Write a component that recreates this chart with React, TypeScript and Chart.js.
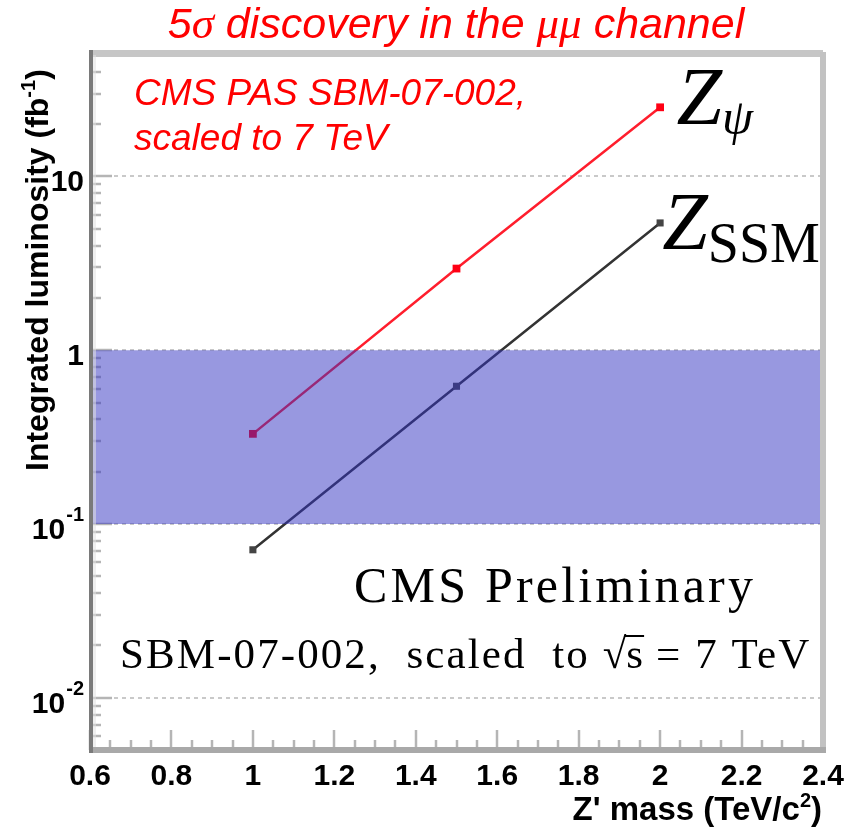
import React, { useEffect, useRef } from "react";
import { Chart, registerables } from "chart.js";

Chart.register(...registerables);

// Z' mass points (TeV/c^2) and the integrated luminosity needed for a 5σ discovery (fb^-1)
const massTeV = [1.0, 1.5, 2.0];
const lumiZpsi = [0.33, 2.95, 25];
const lumiZssm = [0.071, 0.62, 5.4];

// shaded luminosity window (fb^-1)
const bandLow = 0.1;
const bandHigh = 1;

// axis ranges
const massRange = [0.6, 2.4];
const lumiRange = [0.005, 50];

// tick values and labels
const massTicks = [0.6, 0.8, 1.0, 1.2, 1.4, 1.6, 1.8, 2.0, 2.2, 2.4];
const massTickLabels = ["0.6", "0.8", "1", "1.2", "1.4", "1.6", "1.8", "2", "2.2", "2.4"];
const lumiDecades = [0.01, 0.1, 1, 10];
const lumiDecadeBase = ["10", "10", "1", "10"];
const lumiDecadeExp = ["-2", "-1", "", ""];

// model label anchors in data coordinates
const zpsiLabelAt = { x: 2.04, y: 20 };
const zssmLabelAt = { x: 2.005, y: 3.8 };

const SANS = '"Liberation Sans", Arial, Helvetica, sans-serif';
const SERIF = '"Liberation Serif", "Times New Roman", serif';

type Run = { text: string; font: string; dy?: number; spacing?: number };

function runsWidth(ctx: CanvasRenderingContext2D, runs: Run[]) {
  let w = 0;
  for (const r of runs) {
    ctx.font = r.font;
    (ctx as any).letterSpacing = `${r.spacing || 0}px`;
    w += ctx.measureText(r.text).width;
  }
  (ctx as any).letterSpacing = "0px";
  return w;
}

function drawRuns(ctx: CanvasRenderingContext2D, runs: Run[], x: number, y: number) {
  let cx = x;
  const ends: number[] = [];
  for (const r of runs) {
    ctx.font = r.font;
    (ctx as any).letterSpacing = `${r.spacing || 0}px`;
    ctx.fillText(r.text, cx, y + (r.dy || 0));
    cx += ctx.measureText(r.text).width;
    ends.push(cx);
  }
  (ctx as any).letterSpacing = "0px";
  return ends;
}

const decorPlugin = {
  id: "decor",
  beforeDatasetsDraw(chart: any) {
    const { ctx, chartArea: a } = chart;
    const xs = chart.scales.x;
    const ys = chart.scales.y;
    ctx.save();
    const seg = (x1: number, y1: number, x2: number, y2: number) => {
      ctx.beginPath();
      ctx.moveTo(x1, y1);
      ctx.lineTo(x2, y2);
      ctx.stroke();
    };
    // dashed grid at each decade
    ctx.strokeStyle = "#c9c9c9";
    ctx.lineWidth = 2;
    ctx.setLineDash([4, 4]);
    for (const v of lumiDecades) {
      const py = Math.round(ys.getPixelForValue(v));
      seg(a.left, py, a.right, py);
    }
    ctx.setLineDash([]);
    // inward tick marks on the luminosity axis
    ctx.strokeStyle = "#b5b5b5";
    ctx.lineWidth = 2.5;
    for (let e = -3; e <= 1; e++) {
      for (let k = 1; k <= 9; k++) {
        const v = k * Math.pow(10, e);
        if (v < lumiRange[0] || v > lumiRange[1]) continue;
        const py = Math.round(ys.getPixelForValue(v));
        seg(a.left, py, a.left + (k === 1 ? 22 : 11), py);
      }
    }
    // inward tick marks on the mass axis
    massTicks.forEach((t, i) => {
      const px = Math.round(xs.getPixelForValue(t));
      seg(px, a.bottom, px, a.bottom - 20);
      if (i < massTicks.length - 1) {
        for (let j = 1; j <= 3; j++) {
          const mx = Math.round(xs.getPixelForValue(t + j * 0.05));
          seg(mx, a.bottom, mx, a.bottom - 10);
        }
      }
    });
    ctx.restore();
  },
  afterDatasetsDraw(chart: any) {
    const { ctx, chartArea: a } = chart;
    ctx.save();
    const h = a.bottom - a.top;
    const w = a.right - a.left;
    // frame
    ctx.fillStyle = "#c6c6c6";
    ctx.fillRect(a.left, a.top - 5, w, 7);
    ctx.fillStyle = "#c2c2c2";
    ctx.fillRect(a.right - 3, a.top - 3, 6, h + 6);
    ctx.fillStyle = "rgba(225,225,225,0.55)";
    ctx.fillRect(a.left + 2, a.top, 4, h);
    ctx.fillStyle = "#7a7a7a";
    ctx.fillRect(a.left - 1, a.top - 5, 4, h + 8);
    ctx.fillStyle = "#a9a9a9";
    ctx.fillRect(a.left + 3, a.bottom - 3, w, 6);
    ctx.restore();
  },
  afterDraw(chart: any) {
    const { ctx, chartArea: a } = chart;
    const xs = chart.scales.x;
    const ys = chart.scales.y;
    ctx.save();
    ctx.textBaseline = "alphabetic";
    ctx.textAlign = "left";

    // title
    ctx.fillStyle = "#ff0000";
    const titleRuns: Run[] = [
      { text: "5", font: `italic 43px ${SANS}` },
      { text: "σ", font: `italic 45px ${SERIF}` },
      { text: " discovery in the ", font: `italic 43px ${SANS}` },
      { text: "μμ", font: `italic 45px ${SERIF}` },
      { text: " channel", font: `italic 43px ${SANS}` },
    ];
    const tw = runsWidth(ctx, titleRuns);
    drawRuns(ctx, titleRuns, 456 - tw / 2, 38);

    // reference note
    ctx.font = `italic 37px ${SANS}`;
    ctx.fillText("CMS PAS SBM-07-002,", 134, 105);
    ctx.fillText("scaled to 7 TeV", 134, 150);

    ctx.fillStyle = "#000";
    // mass tick labels
    ctx.textAlign = "center";
    ctx.font = `bold 30px ${SANS}`;
    massTicks.forEach((t, i) => {
      ctx.fillText(massTickLabels[i], xs.getPixelForValue(t), a.bottom + 35);
    });

    // luminosity decade labels
    ctx.textAlign = "left";
    lumiDecades.forEach((v, i) => {
      const py = ys.getPixelForValue(v);
      const right = a.left - 6;
      ctx.font = `bold 20px ${SANS}`;
      const ew = lumiDecadeExp[i] ? ctx.measureText(lumiDecadeExp[i]).width : 0;
      ctx.font = `bold 30px ${SANS}`;
      const bw = ctx.measureText(lumiDecadeBase[i]).width;
      const bx = right - ew - (ew ? 1 : 0) - bw;
      ctx.fillText(lumiDecadeBase[i], bx, py + 15);
      if (ew) {
        ctx.font = `bold 20px ${SANS}`;
        ctx.fillText(lumiDecadeExp[i], right - ew, py - 3);
      }
    });

    // luminosity axis title
    ctx.save();
    ctx.translate(48, 471);
    ctx.rotate(-Math.PI / 2);
    drawRuns(
      ctx,
      [
        { text: "Integrated luminosity (fb", font: `bold 32px ${SANS}` },
        { text: "-1", font: `bold 20px ${SANS}`, dy: -13 },
        { text: ")", font: `bold 32px ${SANS}` },
      ],
      0,
      0
    );
    ctx.restore();

    // mass axis title
    const xtRuns: Run[] = [
      { text: "Z' mass (TeV/c", font: `bold 33px ${SANS}` },
      { text: "2", font: `bold 20px ${SANS}`, dy: -13 },
      { text: ")", font: `bold 33px ${SANS}` },
    ];
    const xtw = runsWidth(ctx, xtRuns);
    drawRuns(ctx, xtRuns, a.right - 1 - xtw, 820);

    // model labels
    drawRuns(
      ctx,
      [
        { text: "Z", font: `italic 82px ${SERIF}` },
        { text: "ψ", font: `italic 50px ${SERIF}`, dy: 10 },
      ],
      xs.getPixelForValue(zpsiLabelAt.x),
      ys.getPixelForValue(zpsiLabelAt.y)
    );
    drawRuns(
      ctx,
      [
        { text: "Z", font: `italic 82px ${SERIF}` },
        { text: "SSM", font: `56px ${SERIF}`, dy: 13 },
      ],
      xs.getPixelForValue(zssmLabelAt.x),
      ys.getPixelForValue(zssmLabelAt.y)
    );

    // collaboration labels
    drawRuns(ctx, [{ text: "CMS Preliminary", font: `50px ${SERIF}`, spacing: 3.2 }], 354, 602);
    const sbmFont = `43px ${SERIF}`;
    const ends = drawRuns(
      ctx,
      [
        { text: "SBM-07-002,  scaled  to ", font: sbmFont, spacing: 2.1 },
        { text: "√", font: sbmFont, spacing: 0 },
        { text: "s", font: sbmFont, spacing: 0 },
        { text: " = 7 TeV", font: sbmFont, spacing: 2.1 },
      ],
      120,
      668
    );
    ctx.fillRect(ends[1] - 2, 668 - 33, ends[2] - ends[1] + 3, 2);

    ctx.restore();
  },
};

export default function App() {
  const canvasRef = useRef<HTMLCanvasElement | null>(null);

  useEffect(() => {
    const canvas = canvasRef.current;
    if (!canvas) return;
    const pts = (ys: number[]) => massTeV.map((m, i) => ({ x: m, y: ys[i] }));
    const chart = new Chart(canvas, {
      type: "line",
      data: {
        datasets: [
          {
            label: "Zpsi",
            data: pts(lumiZpsi),
            borderColor: "rgb(255,30,45)",
            borderWidth: 2.5,
            pointStyle: "rect",
            pointRadius: 5.5,
            pointBackgroundColor: "rgb(255,0,20)",
            pointBorderWidth: 0,
            fill: false,
            order: 1,
          },
          {
            label: "ZSSM",
            data: pts(lumiZssm),
            borderColor: "#333333",
            borderWidth: 2.5,
            pointStyle: "rect",
            pointRadius: 5,
            pointBackgroundColor: "#444444",
            pointBorderWidth: 0,
            fill: false,
            order: 1,
          },
          {
            label: "band",
            data: [
              { x: massRange[0], y: bandHigh },
              { x: massRange[1], y: bandHigh },
            ],
            borderWidth: 0,
            borderColor: "rgba(0,0,0,0)",
            pointRadius: 0,
            backgroundColor: "rgba(49,49,193,0.5)",
            fill: { value: bandLow },
            order: 0,
          },
        ],
      },
      options: {
        responsive: false,
        animation: false,
        events: [],
        layout: { padding: { left: 90, top: 55, right: 29, bottom: 78 } },
        scales: {
          x: { type: "linear", min: massRange[0], max: massRange[1], display: false },
          y: { type: "logarithmic", min: lumiRange[0], max: lumiRange[1], display: false },
        },
        plugins: {
          legend: { display: false },
          title: { display: false },
          tooltip: { enabled: false },
        },
      },
      plugins: [decorPlugin],
    });
    return () => chart.destroy();
  }, []);

  return (
    <div style={{ position: "absolute", left: 0, top: 0, width: 852, height: 828, background: "#fff" }}>
      <canvas ref={canvasRef} width={852} height={828} />
    </div>
  );
}
